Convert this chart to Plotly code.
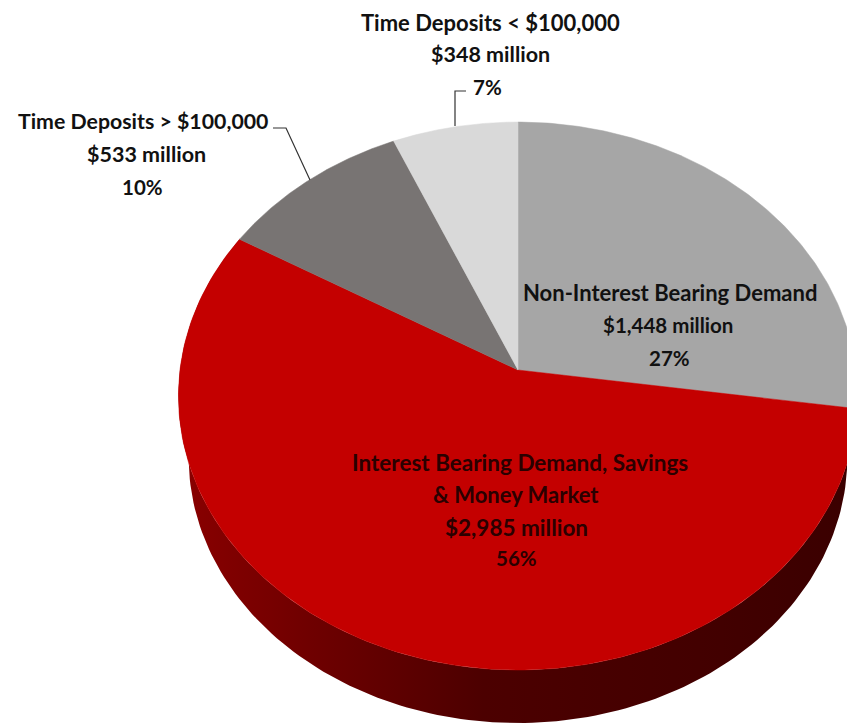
import math
import plotly.graph_objects as go

# Data
categories = ["Non-Interest Bearing Demand", "Interest Bearing Demand, Savings & Money Market",
              "Time Deposits > $100,000", "Time Deposits < $100,000"]
values = [1448, 2985, 533, 348]
colors = ["#a6a6a6", "#c40000", "#787473", "#d9d9d9"]

# Projection of the tilted pie
CX, CY = 518, 370
A, B, K = 338, 271.5, 0.095
S, D = 0.97, 62


def proj(a):
    x, y = math.sin(a), math.cos(a)
    w = 1 + K * y
    return CX + A * x / w, CY - B * y / w


def arc(a0, a1, n=160):
    return [a0 + (a1 - a0) * i / n for i in range(n + 1)]


total = sum(values)
bounds = [0.0]
for v in values:
    bounds.append(bounds[-1] + v / total * 2 * math.pi)

fig = go.Figure()

# Extruded side of the red slice
a0, a1 = bounds[1], bounds[2]
top = [proj(a) for a in arc(a0, a1)]
bot = [(CX + S * (x - CX), CY + S * (y - CY) + D) for x, y in top]
side = bot + top[::-1]
fig.add_trace(go.Scatter(
    x=[p[0] for p in side], y=[p[1] for p in side], mode="lines", fill="toself",
    line=dict(width=0), hoverinfo="skip", showlegend=False,
    fillgradient=dict(type="horizontal", colorscale=[
        [0, "#8a0000"], [0.2, "#6e0000"], [0.45, "#4c0000"], [0.8, "#420000"], [1, "#3a0000"]]),
))

# Top faces
for name, c, a0, a1 in zip(categories, colors, bounds[:-1], bounds[1:]):
    pts = [proj(a) for a in arc(a0, a1)]
    xs = [CX] + [p[0] for p in pts] + [CX]
    ys = [CY] + [p[1] for p in pts] + [CY]
    fig.add_trace(go.Scatter(x=xs, y=ys, mode="lines", fill="toself", fillcolor=c,
                             line=dict(width=0.5, color=c), name=name, showlegend=False,
                             hoverinfo="name"))

# Leader lines
for lx, ly in [([273, 286, 310], [128, 128, 180]), ([466, 455, 455], [91, 91, 126])]:
    fig.add_trace(go.Scatter(x=lx, y=ly, mode="lines", line=dict(color="#333333", width=1.2),
                             hoverinfo="skip", showlegend=False))

# Labels
label_lines = [
    ("Time Deposits < $100,000", 490, 22, "#111111", 22),
    ("$348 million", 490, 54, "#111111", 21.5),
    ("7%", 487, 87, "#111111", 20.5),
    ("Time Deposits > $100,000", 143, 121, "#111111", 21.3),
    ("$533 million", 146, 154, "#111111", 21.5),
    ("10%", 142, 187, "#111111", 20.5),
    ("Non-Interest Bearing Demand", 670, 292, "#111111", 22),
    ("$1,448 million", 668, 325, "#111111", 20.5),
    ("27%", 669, 358, "#111111", 20.5),
    ("Interest Bearing Demand, Savings", 520, 462, "#2a0000", 22.5),
    ("& Money Market", 516, 494, "#2a0000", 22),
    ("$2,985 million", 516, 527, "#2a0000", 22.5),
    ("56%", 516, 558, "#2a0000", 20.5),
]
for t, x, y, c, s in label_lines:
    fig.add_annotation(x=x, y=y, text=f"<b>{t}</b>", showarrow=False, xanchor="center", yanchor="middle",
                       font=dict(family="Lato", size=s, color=c))

fig.update_layout(
    width=847, height=725, margin=dict(l=0, r=0, t=0, b=0),
    paper_bgcolor="white", plot_bgcolor="white", showlegend=False,
    xaxis=dict(range=[0, 847], visible=False, fixedrange=True),
    yaxis=dict(range=[725, 0], visible=False, fixedrange=True),
)
fig.write_html("out.html", config={"displayModeBar": False},
               post_script="document.body.style.margin='0';document.documentElement.style.overflow='hidden';")
